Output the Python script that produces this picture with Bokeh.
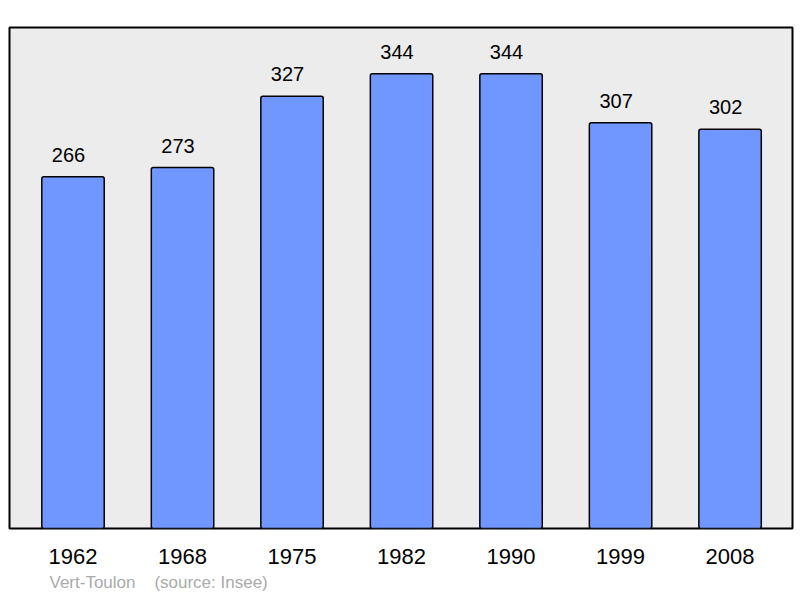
from bokeh.plotting import figure
from bokeh.models import ColumnDataSource, Range1d, FixedTicker, Title
from bokeh.core.properties import value
from bokeh.embed import file_html
from bokeh.resources import INLINE

# ---- data ----
years = ["1962", "1968", "1975", "1982", "1990", "1999", "2008"]
population = [266, 273, 327, 344, 344, 307, 302]
commune = "Vert-Toulon"
source_note = "(source: Insee)"

idx = list(range(len(years)))
src = ColumnDataSource(dict(x=idx, pop=population, lab=[str(v) for v in population]))

p = figure(width=798, height=596, output_backend="svg", toolbar_location=None,
           x_range=Range1d(-0.58, 6.57), y_range=Range1d(0, 379),
           y_axis_location=None,
           min_border_left=9, min_border_right=6, min_border_top=27, min_border_bottom=68)
p.background_fill_color = "#ececec"
p.border_fill_color = "white"
p.outline_line_color = "black"
p.outline_line_width = 2
p.grid.visible = False

p.vbar(x="x", top="pop", bottom=0, width=0.57, source=src,
       fill_color="#7096ff", line_color="black", line_width=1.5, border_radius=2)

p.text(x="x", y="pop", text="lab", source=src, text_align="center",
       text_baseline="alphabetic", y_offset=-22, x_offset=-4.5,
       text_font=value("Liberation Sans"), text_font_size="20px", text_color="black")

ax = p.xaxis[0]
ax.ticker = FixedTicker(ticks=idx)
ax.major_label_overrides = {i: y for i, y in enumerate(years)}
ax.axis_line_color = None
ax.major_tick_line_color = None
ax.minor_tick_line_color = None
ax.major_tick_out = 0
ax.major_tick_in = 0
ax.major_label_standoff = 20
ax.major_label_text_font = "Liberation Sans"
ax.major_label_text_font_size = "22px"
ax.major_label_text_color = "black"

gap = "\u00a0" * 4
p.add_layout(Title(text=commune + gap + source_note, align="left", offset=40,
                   standoff=9, text_font="Liberation Sans", text_font_size="17px",
                   text_font_style="normal", text_color="#aaaaaa"), "below")

open("out.html", "w").write(file_html(p, INLINE))
